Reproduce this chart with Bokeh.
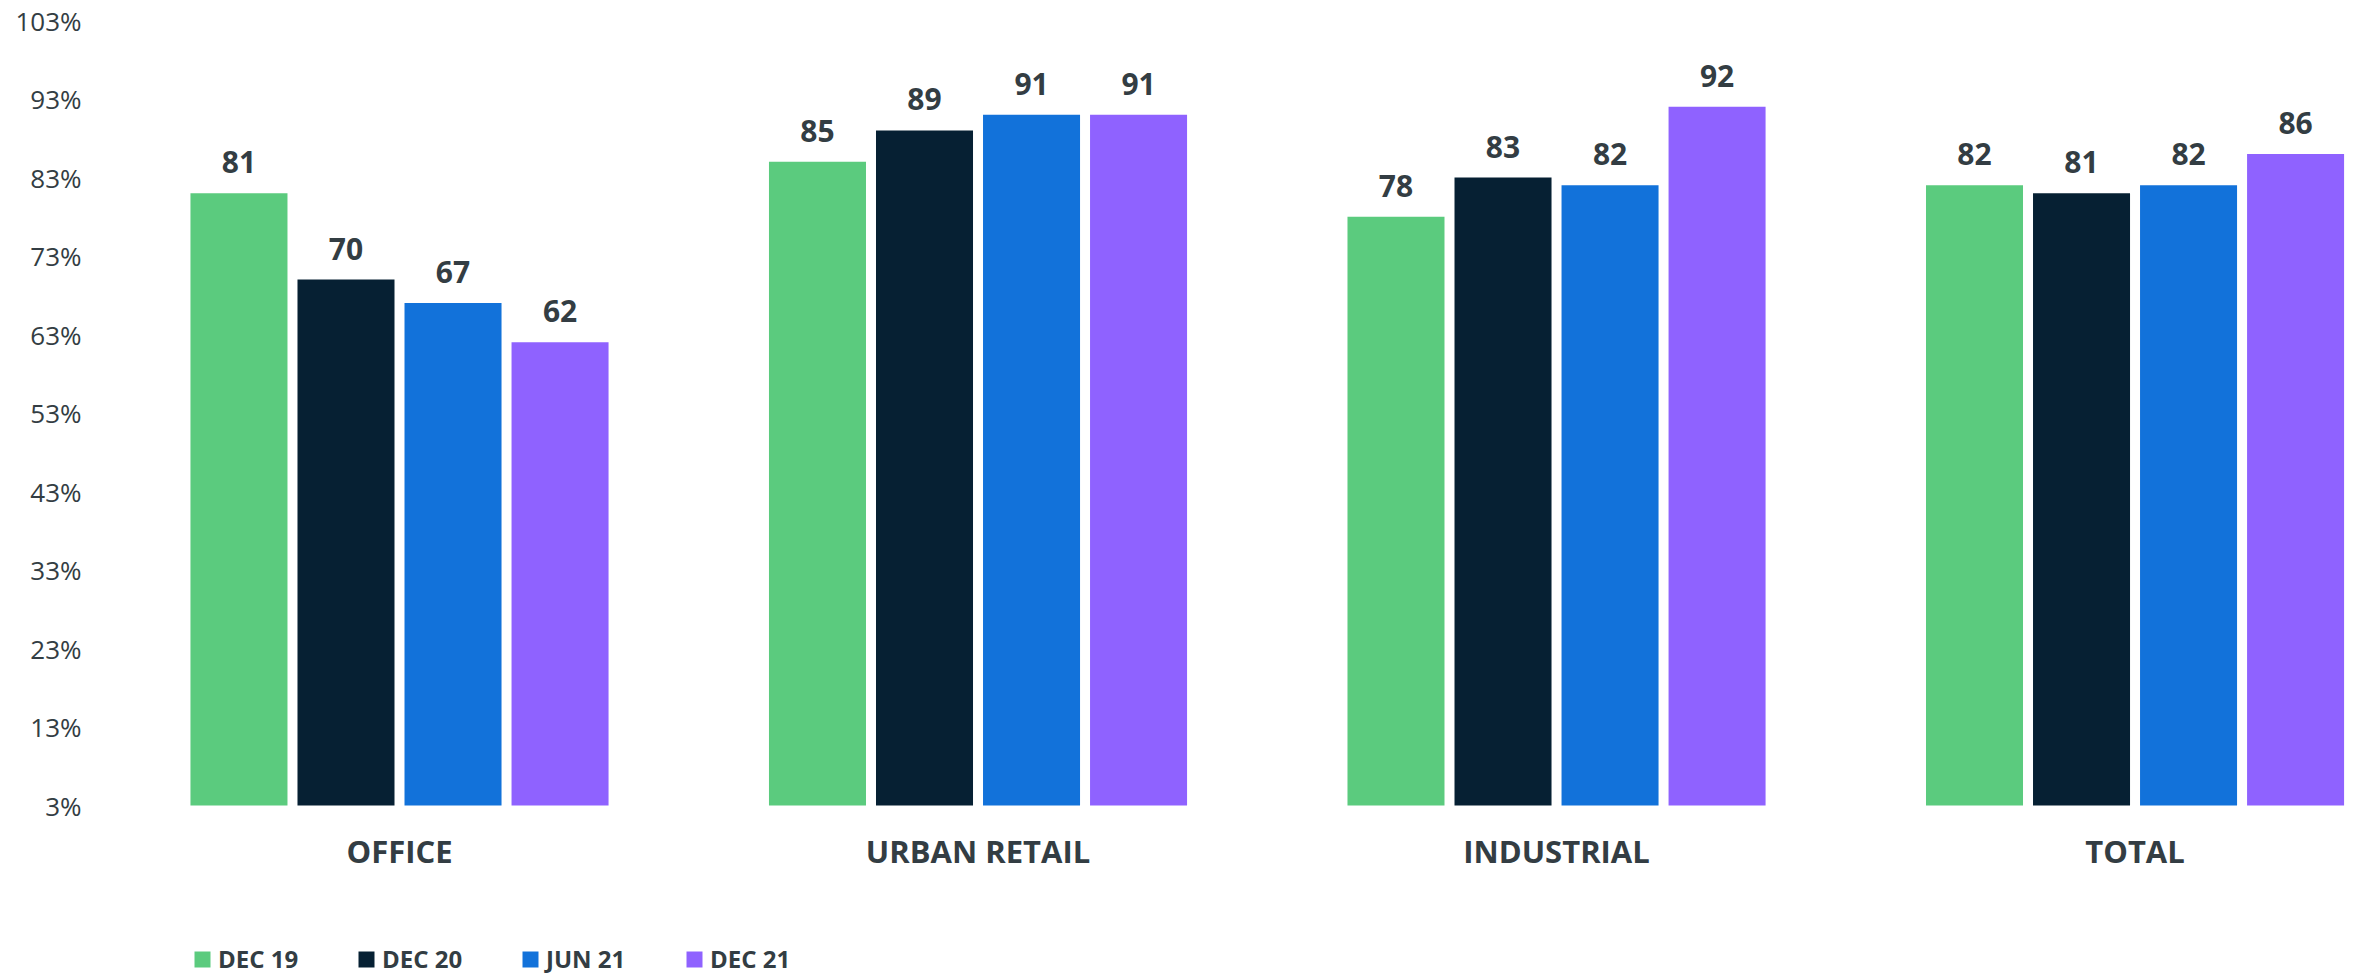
from bokeh.plotting import figure
from bokeh.models import Range1d, FixedTicker, Legend, LegendItem
from bokeh.embed import file_html
from bokeh.resources import INLINE
from bokeh.core.properties import value

categories = ["OFFICE", "URBAN RETAIL", "INDUSTRIAL", "TOTAL"]
series = ["DEC 19", "DEC 20", "JUN 21", "DEC 21"]
dec19 = [81, 85, 78, 82]
dec20 = [70, 89, 83, 81]
jun21 = [67, 91, 82, 82]
dec21 = [62, 91, 92, 86]
colors = ["#5BCB7E", "#062033", "#1272DA", "#8F62FF"]
y_ticks = [3, 13, 23, 33, 43, 53, 63, 73, 83, 93, 103]

TEXT = "#333D43"
FONT = "Open Sans"

W, H = 2359, 975
TOP, LEFT = 20, 95
PX_PER_UNIT = 7.85
y_start = 103 - (H - TOP) / PX_PER_UNIT

p = figure(width=W, height=H,
           x_range=Range1d(-0.5255, 3.388), y_range=Range1d(y_start, 103),
           output_backend="svg", toolbar_location=None,
           min_border_left=LEFT, min_border_right=0, min_border_top=TOP,
           min_border_bottom=0)
p.outline_line_color = None
p.xgrid.visible = False
p.ygrid.visible = False
p.background_fill_color = "white"
p.border_fill_color = "white"

# y axis
p.yaxis.ticker = FixedTicker(ticks=y_ticks)
p.yaxis.major_label_overrides = {t: f"{t}%" for t in y_ticks}
p.yaxis.axis_line_color = None
p.yaxis.major_tick_line_color = None
p.yaxis.minor_tick_line_color = None
p.yaxis.major_label_standoff = 8
p.yaxis.major_label_text_font = FONT
p.yaxis.major_label_text_font_size = "26px"
p.yaxis.major_label_text_color = TEXT

# x axis with category names, pinned at the bar baseline
p.xaxis.fixed_location = 3
p.xaxis.ticker = FixedTicker(ticks=list(range(len(categories))))
p.xaxis.major_label_overrides = {i: c for i, c in enumerate(categories)}
p.xaxis.axis_line_color = None
p.xaxis.major_tick_line_color = None
p.xaxis.minor_tick_line_color = None
p.xaxis.major_label_standoff = 18
p.xaxis.major_label_text_font = FONT
p.xaxis.major_label_text_font_size = "31px"
p.xaxis.major_label_text_font_style = "bold"
p.xaxis.major_label_text_color = TEXT

data = [dec19, dec20, jun21, dec21]
offsets = [-0.2775, -0.0925, 0.0925, 0.2775]
bar_w = 0.1677

items = []
for s, vals, col, off in zip(series, data, colors, offsets):
    xs = [i + off for i in range(len(categories))]
    r = p.vbar(x=xs, top=vals, bottom=3, width=bar_w, fill_color=col,
               line_color=None)
    p.text(x=xs, y=vals, text=[str(v) for v in vals], text_align="center",
           text_baseline="alphabetic", y_offset=-31,
           text_font=value(FONT), text_font_style="bold",
           text_font_size="30px", text_color=TEXT)
    items.append(LegendItem(label=s, renderers=[r]))

legend = Legend(items=items, orientation="horizontal", location=(97, 0),
                glyph_width=20, glyph_height=20, label_standoff=6,
                label_width=138, spacing=0, padding=0, margin=0,
                border_line_color=None, background_fill_alpha=0,
                label_text_font=FONT, label_text_font_size="24px",
                label_text_font_style="bold", label_text_color=TEXT)
p.add_layout(legend, "center")

open("out.html", "w").write(file_html(p, INLINE))
